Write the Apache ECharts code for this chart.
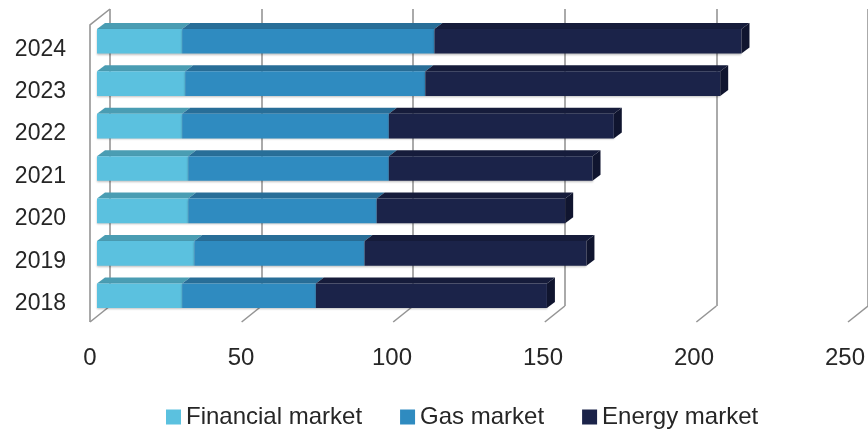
<!DOCTYPE html>
<html>
<head>
<meta charset="utf-8">
<script src="https://cdn.jsdelivr.net/npm/echarts@6/dist/echarts.min.js"></script>
<style>
  html, body { margin: 0; padding: 0; background: #fff; }
  #chart { width: 868px; height: 430px; }
</style>
</head>
<body>
<div id="chart"></div>
<script>
// Market volumes per year, stacked left to right
const years = ['2018', '2019', '2020', '2021', '2022', '2023', '2024'];
const financial = [28, 32, 30, 30, 28, 29, 28];
const gas = [44, 56, 62, 66, 68, 79, 83];
const energy = [76, 73, 62, 67, 74, 97, 101];
const seriesNames = ['Financial market', 'Gas market', 'Energy market'];
const axisTicks = [0, 50, 100, 150, 200, 250];

// face colours: front, top, end
const palette = [
  { front: '#5BC1DF', top: '#4A9DB3', side: '#3F8A9E' },
  { front: '#2F8BC0', top: '#286E98', side: '#215C80' },
  { front: '#1B2349', top: '#161C3B', side: '#10152F' }
];

// bar depth (pixels) and the wall depth between back and front planes
const BAR_DX = 8, BAR_DY = -6;
const WALL_DX = -20, WALL_DY = 16;
const FONT = 'Liberation Sans';
const TEXT = '#262626';

const valueSets = [financial, gas, energy];

// stacked [start, end, category] triples for each market
function stackedData(k) {
  return years.map((y, i) => {
    let start = 0;
    for (let j = 0; j < k; j++) start += valueSets[j][i];
    return [start, start + valueSets[k][i], i];
  });
}

function barRenderer(k) {
  const c = palette[k];
  const last = k === valueSets.length - 1;
  return function (params, api) {
    const s = api.coord([api.value(0), api.value(2)]);
    const e = api.coord([api.value(1), api.value(2)]);
    const h = api.size([0, 1])[1] * 0.58;
    const y0 = s[1] - h / 2, y1 = s[1] + h / 2;
    const x0 = s[0], x1 = e[0];
    const children = [
      {
        type: 'polygon',
        shape: { points: [[x0, y0], [x1, y0], [x1 + BAR_DX, y0 + BAR_DY], [x0 + BAR_DX, y0 + BAR_DY]] },
        style: { fill: c.top }
      },
      {
        type: 'rect',
        shape: { x: x0, y: y0, width: x1 - x0, height: h },
        style: { fill: c.front, shadowBlur: 2, shadowColor: 'rgba(0,0,0,0.25)', shadowOffsetY: 1 }
      }
    ];
    if (last) {
      children.push({
        type: 'polygon',
        shape: { points: [[x1, y0], [x1 + BAR_DX, y0 + BAR_DY], [x1 + BAR_DX, y1 + BAR_DY], [x1, y1]] },
        style: { fill: c.side }
      });
    }
    return { type: 'group', children };
  };
}

// floor diagonals under each gridline, plus the left wall outline
function wallRenderer(params, api) {
  const lineStyle = { stroke: '#959595', lineWidth: 1.6 };
  const b = api.coord([api.value(0), 0]);
  const children = [{
    type: 'line',
    shape: { x1: b[0], y1: b[1], x2: b[0] + WALL_DX, y2: b[1] + WALL_DY },
    style: lineStyle
  }];
  if (params.dataIndex === 0) {
    const t = api.coord([api.value(0), 1]);
    children.push({
      type: 'polyline',
      shape: { points: [[t[0], t[1]], [t[0] + WALL_DX, t[1] + WALL_DY], [b[0] + WALL_DX, b[1] + WALL_DY]] },
      style: Object.assign({ fill: null }, lineStyle)
    });
  }
  return { type: 'group', children };
}

const chart = echarts.init(document.getElementById('chart'), null, { renderer: 'canvas' });

chart.setOption({
  animation: false,
  backgroundColor: '#ffffff',
  textStyle: { fontFamily: FONT },
  grid: [
    // bars
    { left: 97, width: 760, top: 20, bottom: 113 },
    // front plane: value tick labels
    { left: 90, width: 760, top: 25, bottom: 108 },
    // back wall: gridlines
    { left: 110, width: 758, top: 9, bottom: 124 },
    // year labels along the front edge
    { left: 90, width: 760, top: 28, bottom: 105 }
  ],
  xAxis: [
    { gridIndex: 0, type: 'value', min: 0, max: 250, interval: 50, show: false },
    {
      gridIndex: 1, type: 'value', min: 0, max: 250, interval: 50,
      axisLine: { show: false }, axisTick: { show: false }, splitLine: { show: false },
      axisLabel: { show: true, margin: 24, fontSize: 24, color: TEXT, fontFamily: FONT,
        formatter: v => axisTicks.includes(v) ? String(v) : '' }
    },
    {
      gridIndex: 2, type: 'value', min: 0, max: 250, interval: 50,
      axisLine: { show: false }, axisTick: { show: false }, axisLabel: { show: false },
      splitLine: { show: true, lineStyle: { color: '#959595', width: 1.6 } }
    },
    { gridIndex: 3, type: 'value', min: 0, max: 250, show: false }
  ],
  yAxis: [
    { gridIndex: 0, type: 'category', data: years, show: false },
    { gridIndex: 1, type: 'category', data: years, show: false },
    { gridIndex: 2, type: 'value', min: 0, max: 1, show: false, splitLine: { show: false } },
    {
      gridIndex: 3, type: 'category', data: years,
      axisLine: { show: false }, axisTick: { show: false }, splitLine: { show: false },
      axisLabel: { margin: 24, fontSize: 23, color: TEXT, fontFamily: FONT }
    }
  ],
  legend: {
    data: seriesNames,
    left: 166,
    top: 405,
    padding: 0,
    icon: 'rect',
    itemWidth: 15,
    itemHeight: 15,
    itemGap: 38,
    textStyle: { fontSize: 24, color: TEXT, fontFamily: FONT }
  },
  series: [
    {
      type: 'custom',
      name: 'walls',
      xAxisIndex: 2, yAxisIndex: 2,
      data: axisTicks.map(v => [v]),
      encode: { x: 0 },
      renderItem: wallRenderer,
      clip: false,
      silent: true,
      z: 1
    },
    ...seriesNames.map((name, k) => ({
      type: 'custom',
      name,
      xAxisIndex: 0, yAxisIndex: 0,
      data: stackedData(k),
      encode: { x: [0, 1], y: 2 },
      renderItem: barRenderer(k),
      itemStyle: { color: palette[k].front },
      clip: false,
      z: 2 + k
    }))
  ]
});
</script>
</body>
</html>
